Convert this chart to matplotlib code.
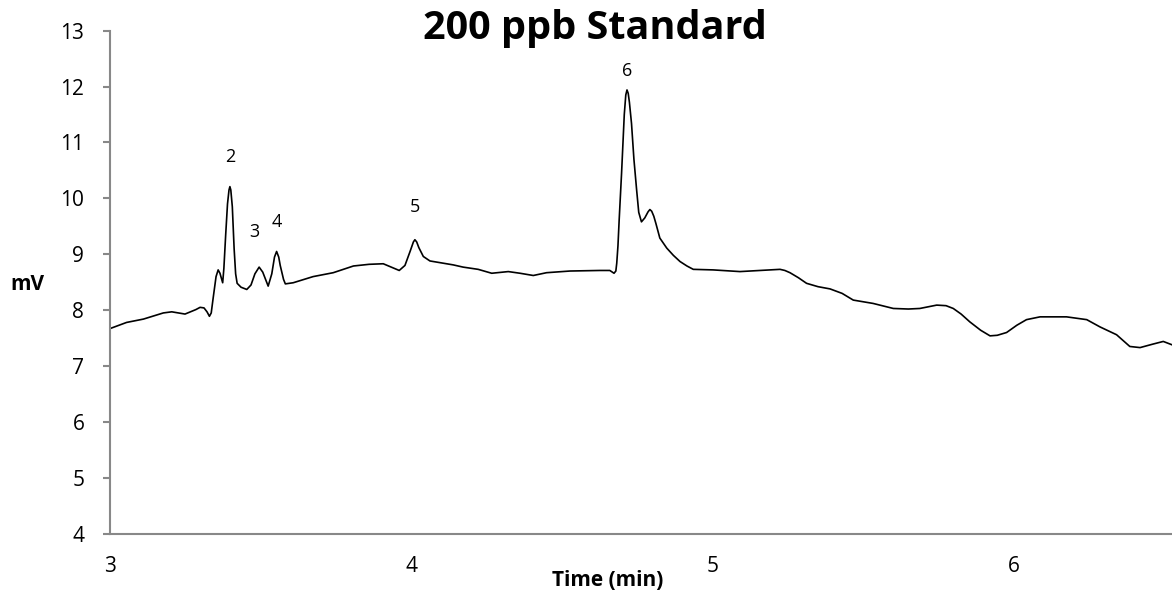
import matplotlib
matplotlib.use("Agg")
import matplotlib.pyplot as plt

plt.rcParams['font.family'] = ['Open Sans', 'DejaVu Sans']

time_min = [3.000, 3.055, 3.111, 3.177, 3.205, 3.249, 3.285, 3.299, 3.312, 3.322, 3.330, 3.336, 3.342,
            3.352, 3.359, 3.365, 3.374, 3.378, 3.384, 3.390, 3.395, 3.398, 3.401, 3.406, 3.412, 3.417, 3.422,
            3.435, 3.454, 3.468, 3.481, 3.495, 3.507, 3.525, 3.537, 3.546, 3.553, 3.560, 3.565,
            3.576, 3.582, 3.608, 3.674, 3.741, 3.808, 3.860, 3.907, 3.929, 3.960, 3.979,
            3.996, 4.007, 4.012, 4.018, 4.025, 4.040, 4.062, 4.095, 4.139, 4.172, 4.222, 4.267,
            4.322, 4.361, 4.405, 4.449, 4.527, 4.626, 4.659, 4.673, 4.679, 4.682, 4.686, 4.690,
            4.698, 4.707, 4.712, 4.716, 4.720, 4.724, 4.731, 4.739, 4.748, 4.755, 4.764, 4.775,
            4.786, 4.792, 4.798, 4.805, 4.812, 4.825, 4.848, 4.870, 4.892, 4.915, 4.936, 5.002, 5.091, 5.157,
            5.224, 5.240, 5.257, 5.285, 5.312, 5.350, 5.390, 5.430, 5.467, 5.533, 5.600, 5.650, 5.688,
            5.744, 5.775, 5.799, 5.825,
            5.854, 5.890, 5.921, 5.945, 5.976, 6.010, 6.042, 6.087, 6.175, 6.242, 6.286, 6.341, 6.385,
            6.419, 6.460, 6.496, 6.525]
signal_mv = [7.67, 7.78, 7.84, 7.95, 7.97, 7.93, 8.01, 8.05, 8.04, 7.97, 7.89, 7.95, 8.20,
             8.60, 8.72, 8.66, 8.49, 8.75, 9.35, 9.90, 10.15, 10.21, 10.15, 9.85, 9.10, 8.65, 8.48,
             8.41, 8.37, 8.45, 8.65, 8.77, 8.68, 8.43, 8.65, 8.95, 9.05, 8.95, 8.80,
             8.55, 8.47, 8.49, 8.60, 8.67, 8.79, 8.82, 8.83, 8.78, 8.71, 8.80,
             9.05, 9.22, 9.26, 9.22, 9.12, 8.96, 8.88, 8.85, 8.81, 8.77, 8.73, 8.66,
             8.69, 8.66, 8.62, 8.67, 8.70, 8.71, 8.71, 8.66, 8.70, 8.84, 9.15, 9.61,
             10.45, 11.50, 11.85, 11.94, 11.88, 11.72, 11.34, 10.70, 10.15, 9.75, 9.58, 9.65,
             9.76, 9.80, 9.77, 9.68, 9.55, 9.29, 9.11, 8.98, 8.87, 8.79, 8.73, 8.72, 8.69, 8.71,
             8.73, 8.71, 8.67, 8.58, 8.48, 8.42, 8.38, 8.30, 8.18, 8.12, 8.03, 8.02, 8.03,
             8.09, 8.08, 8.03, 7.93,
             7.79, 7.64, 7.54, 7.55, 7.60, 7.73, 7.83, 7.88, 7.88, 7.83, 7.70, 7.56, 7.35,
             7.33, 7.39, 7.44, 7.38]

peak_labels = ["2", "3", "4", "5", "6"]
peak_x = [3.398, 3.478, 3.554, 4.012, 4.716]
peak_y = [10.74, 9.40, 9.58, 9.85, 12.28]

x_ticks = [3, 4, 5, 6]
y_ticks = [4, 5, 6, 7, 8, 9, 10, 11, 12, 13]

W, H = 1172, 590
fig = plt.figure(figsize=(W / 100, H / 100), dpi=100)
left, right = 110 / W, 1.0
bottom, top = 1 - 533.7 / H, 1 - 30.7 / H
ax = fig.add_axes([left, bottom, right - left, top - bottom])

ax.plot(time_min, signal_mv, color='black', lw=1.2, solid_joinstyle='round')

ax.set_xlim(3, 6.525)
ax.set_ylim(4, 13)
ax.set_xticks(x_ticks)
ax.set_yticks(y_ticks)
ax.set_xticklabels([str(v) for v in x_ticks])
ax.set_yticklabels([str(v) for v in y_ticks])

for s in ['top', 'right']:
    ax.spines[s].set_visible(False)
for s in ['left', 'bottom']:
    ax.spines[s].set_color('#888888')
    ax.spines[s].set_linewidth(1.5)

ax.tick_params(axis='y', direction='out', length=5, width=1.5, color='#888888',
               labelsize=15, pad=13.5)
ax.tick_params(axis='x', length=0, labelsize=15, pad=16)

for lab, px, py in zip(peak_labels, peak_x, peak_y):
    ax.text(px, py, lab, ha='center', va='center', fontsize=13)

fig.text(595 / W, 1 - 28 / H, "200 ppb Standard", ha='center', va='center',
         fontsize=28.5, fontweight='bold')
fig.text(608 / W, 1 - 580 / H, "Time (min)", ha='center', va='center',
         fontsize=15, fontweight='bold')
fig.text(27 / W, 1 - 284 / H, "mV", ha='center', va='center',
         fontsize=15, fontweight='bold')

fig.savefig("out.png", dpi=100)
